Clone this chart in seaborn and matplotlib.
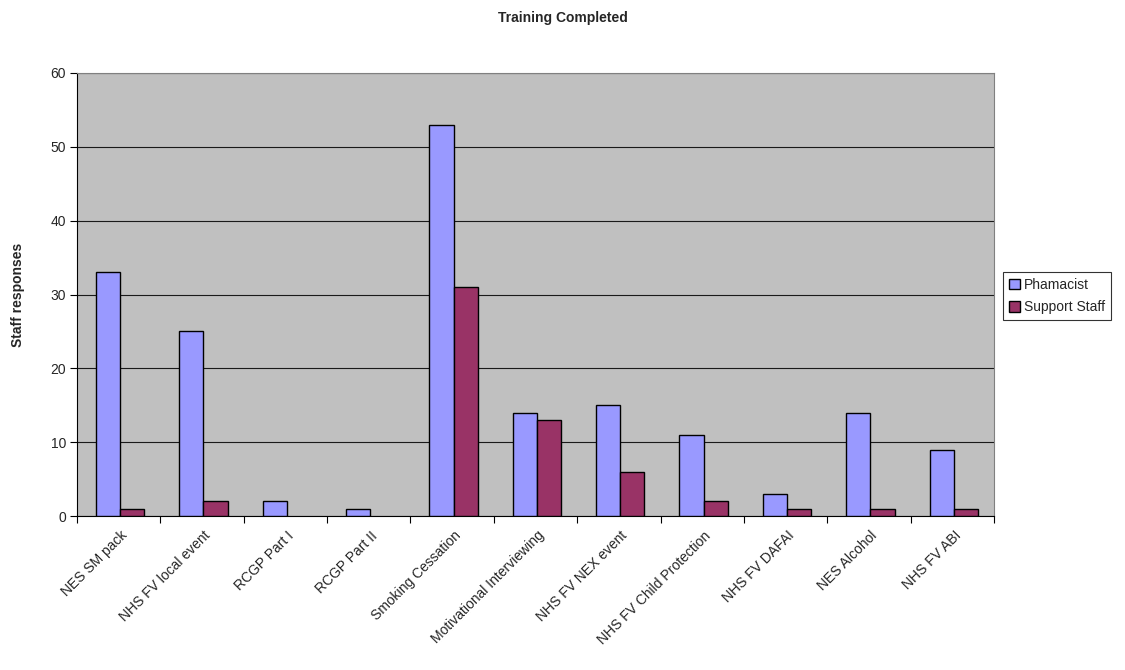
import matplotlib
matplotlib.use("Agg")
import matplotlib.pyplot as plt
import seaborn as sns
import pandas as pd
import numpy as np

categories = ["NES SM pack", "NHS FV local event", "RCGP Part I", "RCGP Part II",
              "Smoking Cessation", "Motivational Interviewing", "NHS FV NEX event",
              "NHS FV Child Protection", "NHS FV DAFAI", "NES Alcohol", "NHS FV ABI"]
pharmacist = [33, 25, 2, 1, 53, 14, 15, 11, 3, 14, 9]
support_staff = [1, 2, 0, 0, 31, 13, 6, 2, 1, 1, 1]
series_names = ["Phamacist", "Support Staff"]
y_ticks = [0, 10, 20, 30, 40, 50, 60]

df = pd.DataFrame({
    "Training": categories * 2,
    "Series": [series_names[0]] * len(categories) + [series_names[1]] * len(categories),
    "Value": pharmacist + support_staff,
})

sns.set_theme(style="white")
plt.rcParams['font.family'] = ['Liberation Sans', 'DejaVu Sans']

fig = plt.figure(figsize=(11.25, 6.7), dpi=100)
ax = fig.add_axes([77/1125, 1 - 516/670, (994 - 77)/1125, (516 - 73)/670])
ax.set_facecolor("#C0C0C0")

sns.barplot(data=df, x="Training", y="Value", hue="Series",
            palette=["#9999FF", "#993366"], width=0.58,
            edgecolor="black", linewidth=1.0, ax=ax, zorder=3, saturation=1)

# hide outlines of zero-height bars
for p in ax.patches:
    if p.get_height() == 0:
        p.set_linewidth(0)

off = 0.017
ax.set_ylim(0, 60)
ax.set_xlim(-0.5 - off, len(categories) - 0.5 - off)
ax.set_yticks(y_ticks)
ax.yaxis.grid(True, color="#1a1a1a", linewidth=0.8, zorder=0)
ax.set_axisbelow(True)
ax.set_xticks(np.arange(len(categories)))
ax.set_xticklabels(categories, rotation=45, ha="right", rotation_mode="anchor",
                   fontsize=10)
ax.tick_params(axis="x", which="major", bottom=False, length=0, pad=9)
ax.set_xticks(np.arange(len(categories) + 1) - 0.5 - off, minor=True)
ax.tick_params(axis="x", which="minor", bottom=True, length=5, width=0.8,
               color="black", direction="out")
ax.tick_params(axis="y", left=True, length=5, width=0.8, color="black",
               direction="out", labelsize=10, pad=3)
ax.set_xlabel("")
ax.set_ylabel("Staff responses", fontsize=10, fontweight="bold", labelpad=18)
for side in ["left", "bottom"]:
    ax.spines[side].set_color("black")
    ax.spines[side].set_linewidth(0.8)
for side in ["top", "right"]:
    ax.spines[side].set_color("#808080")
    ax.spines[side].set_linewidth(0.8)

fig.text(0.5, 1 - 18/670, "Training Completed", ha="center", va="center",
         fontsize=10, fontweight="bold")

leg = ax.legend(loc="center left", frameon=True, fontsize=10, fancybox=False,
                handlelength=0.8, handleheight=0.8, handletextpad=0.3,
                borderpad=0.4, labelspacing=0.6, borderaxespad=0)
leg.set_bbox_to_anchor((1003/1125, 1 - 296/670), transform=fig.transFigure)
leg.get_frame().set_edgecolor("black")
leg.get_frame().set_linewidth(0.8)
leg.set_title(None)
for h in leg.legend_handles:
    h.set_edgecolor("black")
    h.set_linewidth(1.0)

fig.savefig("out.png", dpi=100, facecolor="white")
